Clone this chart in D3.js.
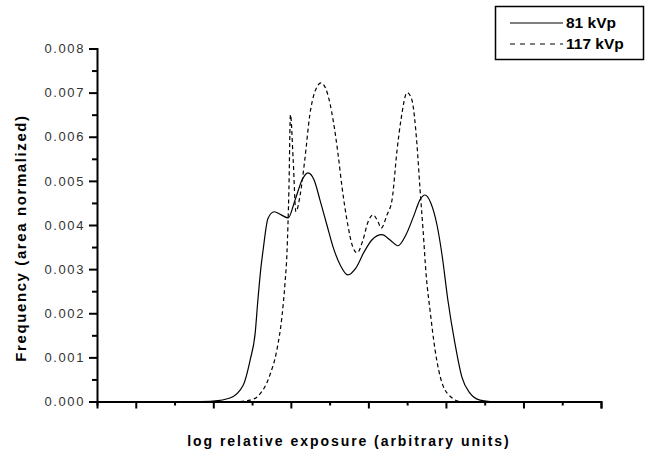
<!DOCTYPE html>
<html><head><meta charset="utf-8">
<script src="https://cdn.jsdelivr.net/npm/d3@7"></script>
<style>body{margin:0;background:#fff}svg{display:block}</style>
</head><body>
<svg id="c" width="646" height="457"></svg>
<script>
// Data (x in arbitrary units, y frequency)
const seriesNames = ["81 kVp", "117 kVp"];
const x81 = [2.66,2.99,3.43,3.77,3.95,4.08,4.15,4.23,4.28,4.41,4.57,4.75,4.93,5.11,5.29,5.44,5.60,5.75,5.93,6.09,6.27,6.47,6.68,6.89,7.09,7.35,7.56,7.76,7.97,8.18,8.33,8.46,8.61,8.77,8.90,9.05,9.23,9.41,9.62,9.88,10.14];
const y81 = [0,0.00001,0.00008,0.00037,0.00094,0.00155,0.0023,0.00305,0.0034,0.00415,0.0043,0.00423,0.00416,0.00457,0.00502,0.00518,0.00502,0.00457,0.004,0.0035,0.0031,0.00287,0.00303,0.00339,0.00366,0.00378,0.00366,0.00353,0.00378,0.00423,0.00457,0.00468,0.0045,0.004,0.00332,0.0023,0.00133,0.00056,0.00019,0.00003,0];
const x117 = [3.69,3.95,4.15,4.46,4.64,4.77,4.85,4.90,4.95,4.99,5.06,5.13,5.24,5.36,5.49,5.62,5.78,5.93,6.09,6.22,6.32,6.47,6.58,6.71,6.86,6.99,7.12,7.25,7.33,7.48,7.61,7.74,7.84,8.00,8.12,8.25,8.33,8.41,8.49,8.59,8.72,8.90,9.16,9.36];
const y117 = [0,0.00003,0.00012,0.0006,0.00117,0.00192,0.00269,0.00337,0.0048,0.0065,0.00548,0.0043,0.00468,0.00548,0.0065,0.00702,0.00722,0.00702,0.00638,0.00559,0.00486,0.004,0.00355,0.00337,0.00366,0.00407,0.00423,0.00407,0.00393,0.00423,0.00457,0.0057,0.00638,0.007,0.00684,0.00586,0.00484,0.00389,0.00287,0.00207,0.00117,0.00042,0.00008,0];
const yTicks = [0,0.001,0.002,0.003,0.004,0.005,0.006,0.007,0.008];
const yLabels = ["0.000","0.001","0.002","0.003","0.004","0.005","0.006","0.007","0.008"];
const xMajor = [1,3,5,7,9,11,13];
const xMinor = [0,2,4,6,8,10,12];
const yMinor = [0.0005,0.0015,0.0025,0.0035,0.0045,0.0055,0.0065,0.0075];

const svg = d3.select("#c");
const L = 97, R = 601, T = 48.5, B = 401.5;
const x = d3.scaleLinear().domain([0,13]).range([L,R]);
const y = d3.scaleLinear().domain([0,0.008]).range([B,T]);
const font = "'Liberation Sans', Arial, sans-serif";

// curves
const line = d3.line().x(d=>x(d[0])).y(d=>y(d[1])).curve(d3.curveMonotoneX);
const d81 = x81.map((v,i)=>[v,y81[i]]);
const d117 = x117.map((v,i)=>[v,y117[i]]);
svg.append("path").attr("d",line(d81)).attr("fill","none").attr("stroke","#000").attr("stroke-width",1.2);
svg.append("path").attr("d",line(d117)).attr("fill","none").attr("stroke","#000").attr("stroke-width",1.2).attr("stroke-dasharray","4,3");

// axes
const gx = svg.append("g").attr("transform",`translate(0,${B})`);
gx.call(d3.axisBottom(x).tickValues(xMajor).tickSize(7).tickFormat(""));
const gx2 = svg.append("g").attr("transform",`translate(0,${B})`);
gx2.call(d3.axisBottom(x).tickValues(xMinor).tickSize(4).tickFormat(""));
const gy = svg.append("g").attr("transform",`translate(${L},0)`);
gy.call(d3.axisLeft(y).tickValues(yTicks).tickSize(8).tickPadding(4).tickFormat((d,i)=>yLabels[i]));
const gy2 = svg.append("g").attr("transform",`translate(${L},0)`);
gy2.call(d3.axisLeft(y).tickValues(yMinor).tickSize(5).tickFormat(""));
[gx,gx2,gy,gy2].forEach(g=>{
  g.selectAll(".domain").attr("stroke","#000").attr("stroke-width",2);
  g.selectAll(".tick line").attr("stroke","#000").attr("stroke-width",2);
});
gx2.select(".domain").remove(); gy2.select(".domain").remove();
gy.selectAll(".tick text").attr("font-family",font).attr("font-size",13).attr("fill","#333").style("letter-spacing","1.6px");

// axis titles
svg.append("text").attr("x",(L+R)/2).attr("y",446).attr("text-anchor","middle")
  .attr("font-family",font).attr("font-size",14).attr("font-weight","bold").style("letter-spacing","1.95px")
  .text("log relative exposure (arbitrary units)");
svg.append("text").attr("transform",`translate(26,${(T+B)/2+13}) rotate(-90)`).attr("text-anchor","middle")
  .attr("font-family",font).attr("font-size",15).attr("font-weight","bold").style("letter-spacing","1.6px")
  .text("Frequency (area normalized)");

// legend
const lg = svg.append("g");
lg.append("rect").attr("x",495.5).attr("y",6.5).attr("width",148).attr("height",53).attr("fill","#fff").attr("stroke","#000").attr("stroke-width",1.5);
const ly = [23,44];
seriesNames.forEach((n,i)=>{
  lg.append("line").attr("x1",510).attr("x2",563).attr("y1",ly[i]).attr("y2",ly[i]).attr("stroke","#000").attr("stroke-width",1.2)
    .attr("stroke-dasharray", i===1 ? "5,5" : null);
  lg.append("text").attr("x",566).attr("y",ly[i]+5).attr("font-family",font).attr("font-size",15.5).attr("font-weight","bold").text(n);
});
</script>
</body></html>
